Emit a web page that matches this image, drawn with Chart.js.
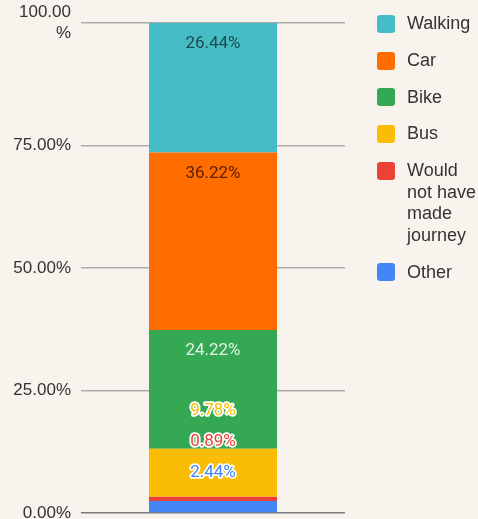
<!DOCTYPE html>
<html><head><meta charset="utf-8">
<script src="https://cdn.jsdelivr.net/npm/chart.js@4.4.1/dist/chart.umd.min.js"></script>
<style>
html,body{margin:0;padding:0;background:#f9f3ed;}
#wrap{position:relative;width:478px;height:519px;overflow:hidden;background:#f9f3ed;}
#c{position:absolute;left:0;top:0;}
#legend{position:absolute;left:377px;top:13px;font-family:"Liberation Sans",Arial,sans-serif;font-size:18px;color:#333;}
.item{position:relative;padding-left:30px;margin-bottom:15.2px;line-height:21.6px;white-space:nowrap;}
.box{position:absolute;left:0;top:1.8px;width:18px;height:18px;border-radius:3px;}
</style></head>
<body><div id="wrap"><canvas id="c" width="478" height="519"></canvas><div id="legend"></div></div>
<script>
// ---- data ----
const categories = ['Walking', 'Car', 'Bike', 'Bus', 'Would not have made journey', 'Other'];
const shares = [26.44, 36.22, 24.22, 9.78, 0.89, 2.44];
const barCategory = [''];
const tickValues = [0, 25, 50, 75, 100];
const tickLabels = ['0.00%', '25.00%', '50.00%', '75.00%', ['100.00', '%']];
const legendLines = [['Walking'], ['Car'], ['Bike'], ['Bus'], ['Would', 'not have', 'made', 'journey'], ['Other']];

// ---- styles ----
const colors = ['#46bdc6', '#ff6d01', '#34a853', '#fbbc04', '#ea4335', '#4285f4'];
const insideLabelColors = ['#1d4a50', '#5c2000', '#e3f3e6', '#5c4500', '#ffffff', '#ffffff'];

// datasets stacked bottom-up: reverse of legend order
const order = categories.map((_, i) => i).reverse();
const datasets = order.map(i => ({
  label: categories[i],
  data: [shares[i]],
  backgroundColor: colors[i],
  borderWidth: 0,
  barPercentage: 0.485,
  categoryPercentage: 1.0,
  _idx: i
}));

const segLabels = {
  id: 'segLabels',
  afterDatasetsDraw(chart) {
    const ctx = chart.ctx;
    let limit = chart.chartArea.bottom - 40;
    ctx.save();
    ctx.font = '17px Roboto, "Liberation Sans", sans-serif';
    ctx.textAlign = 'center';
    ctx.textBaseline = 'middle';
    chart.data.datasets.forEach((ds, k) => {
      const el = chart.getDatasetMeta(k).data[0];
      const i = ds._idx;
      const txt = shares[i].toFixed(2) + '%';
      let y = el.y + 21;
      let moved = false;
      if (y > limit) { y = limit; moved = true; }
      limit = y - 31;
      if (moved) {
        ctx.lineJoin = 'round';
        ctx.lineWidth = 3.5;
        ctx.strokeStyle = '#ffffff';
        ctx.strokeText(txt, el.x, y);
        ctx.fillStyle = colors[i];
        ctx.fillText(txt, el.x, y);
      } else {
        ctx.fillStyle = insideLabelColors[i];
        ctx.fillText(txt, el.x, y);
      }
    });
    ctx.restore();
  }
};

new Chart(document.getElementById('c'), {
  type: 'bar',
  data: { labels: barCategory, datasets },
  options: {
    responsive: false,
    animation: false,
    layout: { padding: { top: 23, right: 133, bottom: 6, left: 0 } },
    plugins: { legend: { display: false }, tooltip: { enabled: false } },
    scales: {
      x: { stacked: true, display: false },
      y: {
        stacked: true, min: 0, max: 100,
        afterBuildTicks: s => { s.ticks = tickValues.map(v => ({ value: v })); },
        afterFit: s => { s.width = 81; s.paddingTop = 0; s.paddingBottom = 0; },
        border: { display: false },
        grid: {
          drawTicks: false,
          lineWidth: 1.5,
          color: c => c.tick && c.tick.value === 0 ? '#7a7a7a' : '#ababab'
        },
        ticks: {
          padding: 10,
          color: '#333',
          font: { family: '"Liberation Sans", Arial, sans-serif', size: 17, lineHeight: 1.2 },
          callback: v => tickLabels[tickValues.indexOf(v)]
        }
      }
    }
  },
  plugins: [segLabels]
});

// HTML legend
const lg = document.getElementById('legend');
categories.forEach((name, i) => {
  const it = document.createElement('div');
  it.className = 'item';
  const b = document.createElement('span');
  b.className = 'box';
  b.style.background = colors[i];
  it.appendChild(b);
  const t = document.createElement('div');
  t.innerHTML = legendLines[i].join('<br>');
  it.appendChild(t);
  lg.appendChild(it);
});
</script>
</body></html>
